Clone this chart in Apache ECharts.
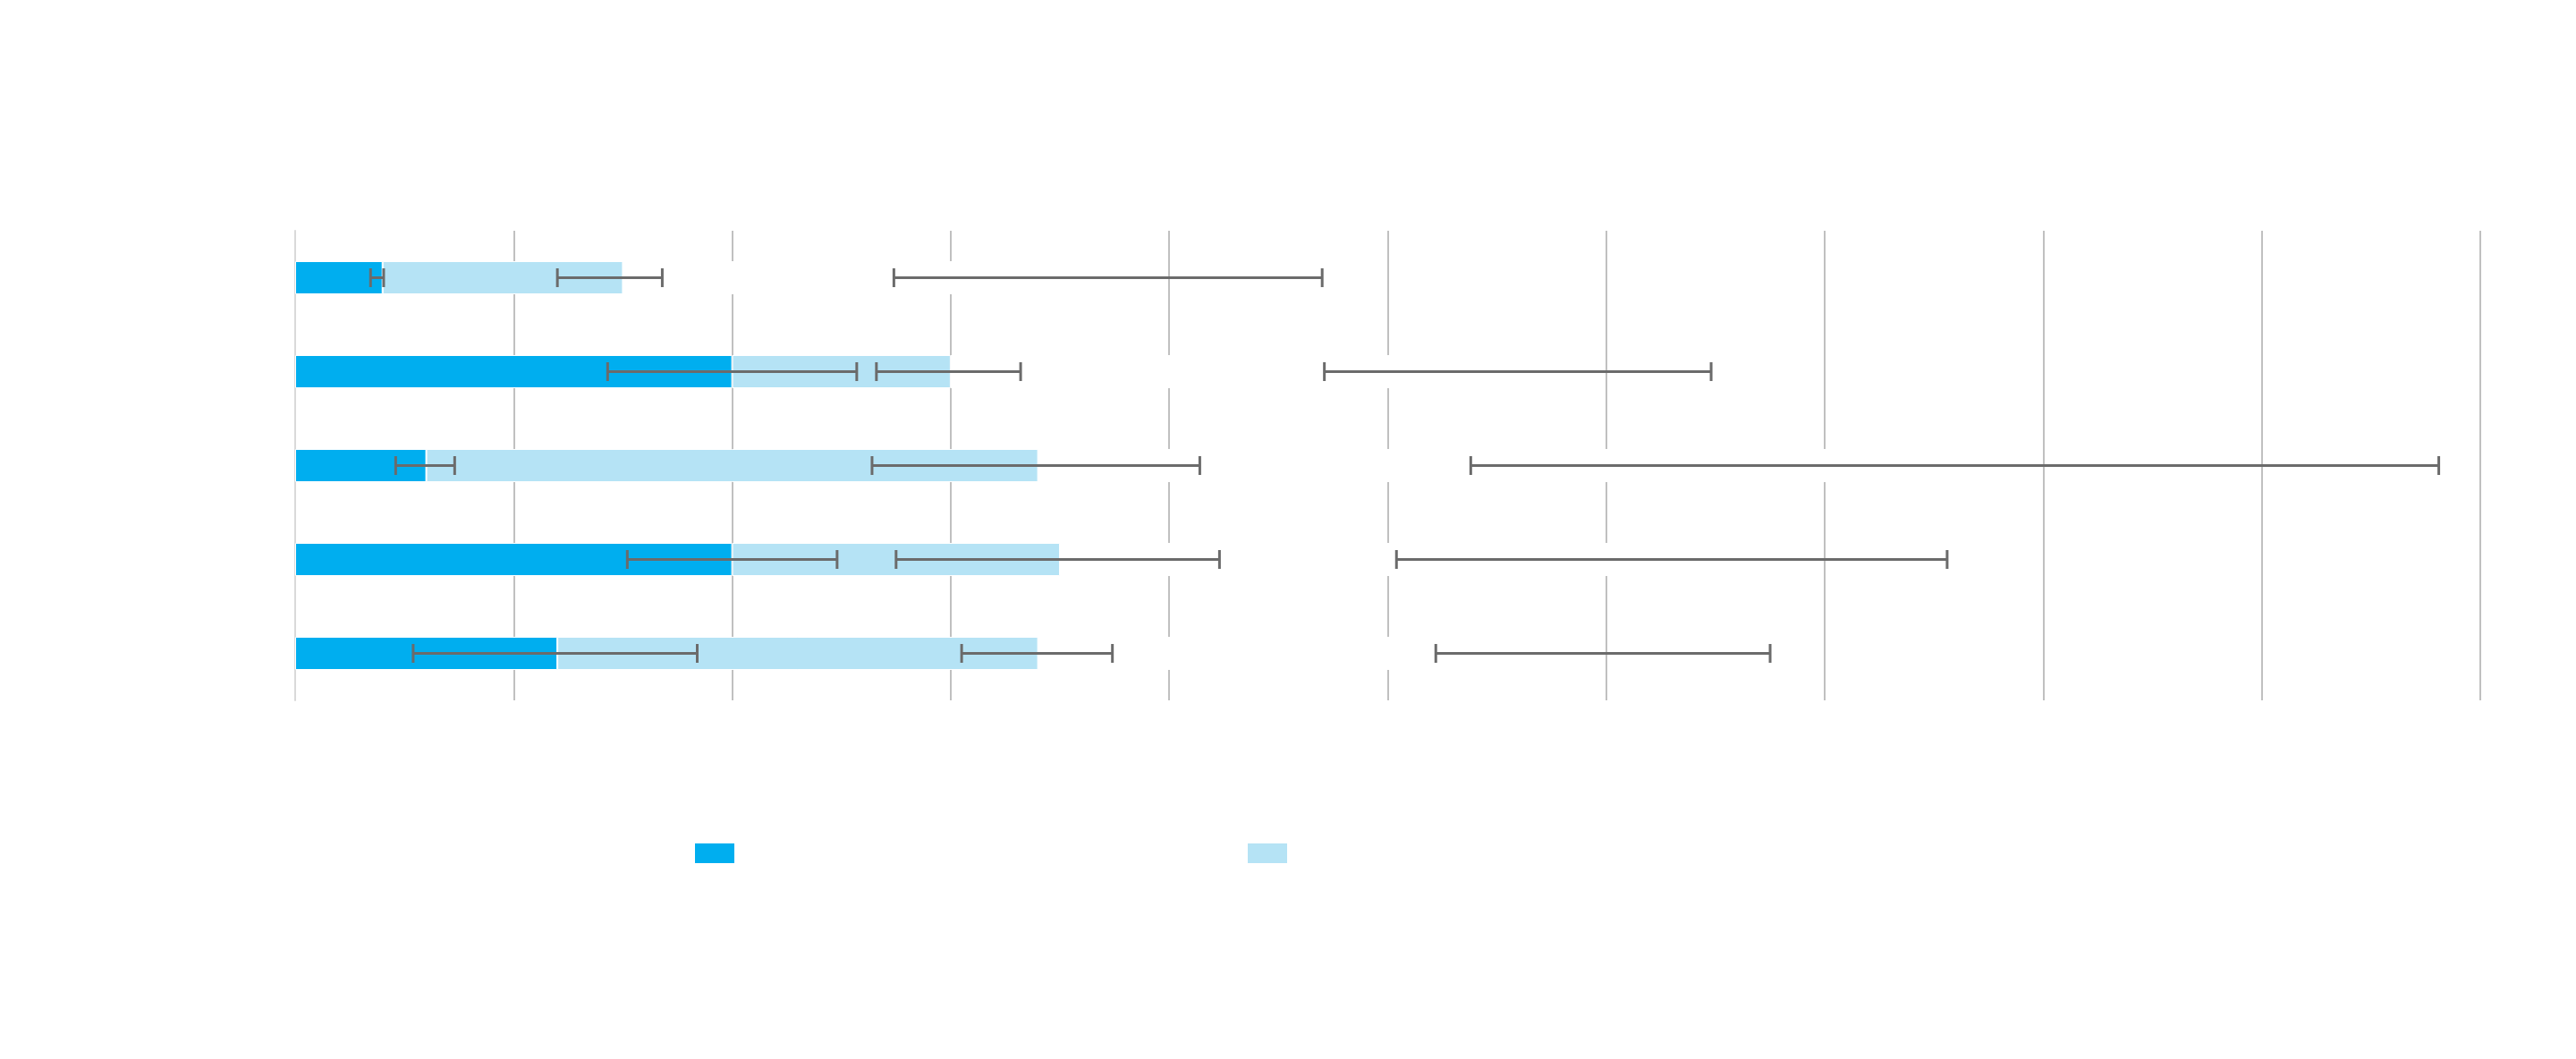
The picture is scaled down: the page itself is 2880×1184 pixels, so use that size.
<!DOCTYPE html>
<html>
<head>
<meta charset="utf-8">
<title>Stacked bars with error bars</title>
<script src="https://cdn.jsdelivr.net/npm/echarts@6/dist/echarts.min.js"></script>
<style>
  html, body { margin: 0; padding: 0; background: #fff; }
  #chart { width: 2880px; height: 1184px; }
</style>
</head>
<body>
<div id="chart"></div>
<script>
// categories (labels are not shown in the picture)
const categories = ['Item 1', 'Item 2', 'Item 3', 'Item 4', 'Item 5'];
const seriesNames = ['Series 1', 'Series 2', 'Series 3'];

// stacked segments
const darkValues = [4, 20, 6, 20, 12];
const lightValues = [11, 10, 28, 15, 22];
const whiteValues = [22.2, 25.9, 42, 28, 25.9];

// error bars, one set per stack end
const errLow1 = [3.45, 14.3, 4.6, 15.2, 5.4];
const errHigh1 = [4.05, 25.7, 7.3, 24.8, 18.4];
const errLow2 = [12.0, 26.6, 26.4, 27.5, 30.5];
const errHigh2 = [16.8, 33.2, 41.4, 42.3, 37.4];
const errLow3 = [27.4, 47.1, 53.8, 50.4, 52.2];
const errHigh3 = [47.0, 64.8, 98.1, 75.6, 67.5];

// value axis ticks
const axisMin = 0;
const axisMax = 100;
const axisStep = 10;

function errData(lo, hi) {
  return lo.map((v, i) => [i, v, hi[i]]);
}

function renderErrorBar(params, api) {
  const cat = api.value(0);
  const a = api.coord([api.value(1), cat]);
  const b = api.coord([api.value(2), cat]);
  const h = 10.5;
  const style = { stroke: '#6b6b6b', lineWidth: 3, fill: null };
  return {
    type: 'group',
    children: [
      { type: 'line', shape: { x1: a[0], y1: a[1], x2: b[0], y2: b[1] }, style: style },
      { type: 'line', shape: { x1: a[0], y1: a[1] - h, x2: a[0], y2: a[1] + h }, style: style },
      { type: 'line', shape: { x1: b[0], y1: b[1] - h, x2: b[0], y2: b[1] + h }, style: style }
    ]
  };
}

function errSeries(lo, hi) {
  return {
    type: 'custom',
    renderItem: renderErrorBar,
    encode: { x: [1, 2], y: 0 },
    data: errData(lo, hi),
    z: 5,
    silent: true
  };
}

function legendItem(name, left) {
  return {
    data: [name],
    left: left,
    top: 941,
    padding: 0,
    icon: 'rect',
    itemWidth: 46,
    itemHeight: 24,
    formatter: () => ''
  };
}

const chart = echarts.init(document.getElementById('chart'));

var option = {
  animation: false,
  backgroundColor: '#fff',
  grid: {
    left: 330,
    right: 107,
    top: 258,
    bottom: 401
  },
  legend: [legendItem(seriesNames[0], 775), legendItem(seriesNames[1], 1393)],
  xAxis: {
    type: 'value',
    min: axisMin,
    max: axisMax,
    interval: axisStep,
    axisLabel: { show: false },
    axisLine: { show: false },
    axisTick: { show: false },
    splitLine: {
      lineStyle: { color: '#c0c0c0', width: 2 } // 网格线
    }
  },
  yAxis: {
    type: 'category',
    data: categories,
    inverse: true,
    axisLabel: { show: false },
    axisTick: { show: false },
    axisLine: { lineStyle: { color: '#d9d9d9', width: 2 } }
  },
  series: [{
    name: seriesNames[0],
    type: 'bar',
    stack: 'total',
    barWidth: 37,
    data: darkValues,
    itemStyle: { color: '#00aeef', borderColor: '#ffffff', borderWidth: 1 }
  }, {
    name: seriesNames[1],
    type: 'bar',
    stack: 'total',
    data: lightValues,
    itemStyle: { color: '#b5e3f5', borderColor: '#ffffff', borderWidth: 1 }
  }, {
    name: seriesNames[2],
    type: 'bar',
    stack: 'total',
    data: whiteValues,
    itemStyle: { color: '#ffffff' }
  },
    errSeries(errLow1, errHigh1),
    errSeries(errLow2, errHigh2),
    errSeries(errLow3, errHigh3)
  ]
};
chart.setOption(option);
</script>
</body>
</html>
